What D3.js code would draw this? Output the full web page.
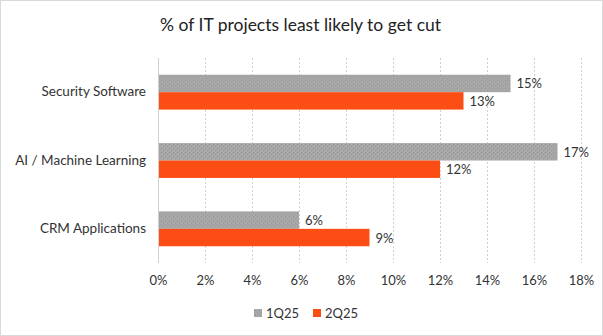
<!DOCTYPE html>
<html lang="en">
<head>
<meta charset="utf-8">
<script src="https://d3js.org/d3.v7.min.js"></script>
<style>
  body { margin: 0; background: #fff; }
  svg { font-family: Lato, "Open Sans", sans-serif; }
</style>
</head>
<body>
<svg id="chart"></svg>
<script>
  var categories = ["Security Software", "AI / Machine Learning", "CRM Applications"];
  var seriesNames = ["1Q25", "2Q25"];
  var q1Values = [15, 17, 6];
  var q2Values = [13, 12, 9];
  var tickValues = [0, 2, 4, 6, 8, 10, 12, 14, 16, 18];

  var width = 603, height = 336;
  var margin = {top: 58, right: 22, bottom: 73, left: 158};
  var colors = {"1Q25": "url(#dots)", "2Q25": "#fc4e14"};

  var svg = d3.select("#chart").attr("width", width).attr("height", height);

  // dotted fill for the grey series
  var pat = svg.append("defs").append("pattern")
      .attr("id", "dots").attr("width", 4).attr("height", 4)
      .attr("patternUnits", "userSpaceOnUse");
  pat.append("rect").attr("width", 4).attr("height", 4).attr("fill", "#a8a8a8");
  pat.append("rect").attr("x", 1).attr("y", 1).attr("width", 1).attr("height", 1).attr("fill", "#8c8c8c");
  pat.append("rect").attr("x", 3).attr("y", 3).attr("width", 1).attr("height", 1).attr("fill", "#959595");

  svg.append("rect")
      .attr("x", 0.5).attr("y", 0.5)
      .attr("width", width - 1).attr("height", height - 1)
      .attr("fill", "#fff").attr("stroke", "#d9d9d9");

  var x = d3.scaleLinear().domain([0, 18]).range([margin.left, width - margin.right]);
  var y = d3.scaleBand().domain(categories).range([margin.top, height - margin.bottom]).paddingInner(0.49).paddingOuter(0.245);
  var ySub = d3.scaleBand().domain(seriesNames).range([0, y.bandwidth()]);

  svg.append("text")
      .attr("x", width / 2 - 1).attr("y", 31)
      .attr("text-anchor", "middle")
      .attr("font-size", 17.5).attr("fill", "#222")
      .text("% of IT projects least likely to get cut");

  // gridlines
  svg.append("g").selectAll("line")
      .data(tickValues.slice(1))
      .enter().append("line")
      .attr("x1", d => x(d) + 0.5).attr("x2", d => x(d) + 0.5)
      .attr("y1", margin.top).attr("y2", height - margin.bottom)
      .attr("stroke", "#d0d0d0").attr("stroke-dasharray", "2,2");

  var xAxis = svg.append("g")
      .attr("transform", "translate(0," + (height - margin.bottom) + ")")
      .call(d3.axisBottom(x).tickValues(tickValues).tickFormat(d => d + "%").tickSize(0).tickPadding(13));
  xAxis.select(".domain").remove();
  xAxis.selectAll("text").attr("font-size", 13).attr("fill", "#333").attr("font-family", "Lato, sans-serif");

  var rows = categories.map((c, i) => ({cat: c, vals: [q1Values[i], q2Values[i]]}));

  var groups = svg.append("g").selectAll("g")
      .data(rows).enter().append("g")
      .attr("transform", d => "translate(0," + y(d.cat) + ")");

  groups.selectAll("rect")
      .data(d => d.vals.map((v, j) => ({name: seriesNames[j], v: v})))
      .enter().append("rect")
      .attr("x", x(0))
      .attr("y", d => ySub(d.name))
      .attr("width", d => x(d.v) - x(0))
      .attr("height", ySub.bandwidth())
      .attr("fill", d => colors[d.name]);

  groups.selectAll("text")
      .data(d => d.vals.map((v, j) => ({name: seriesNames[j], v: v})))
      .enter().append("text")
      .attr("x", d => x(d.v) + 6)
      .attr("y", d => ySub(d.name) + ySub.bandwidth() / 2 + 5)
      .attr("font-size", 13).attr("fill", "#333")
      .text(d => d.v + "%");

  // left axis line
  svg.append("line")
      .attr("x1", x(0) + 0.5).attr("x2", x(0) + 0.5)
      .attr("y1", margin.top).attr("y2", height - margin.bottom)
      .attr("stroke", "#d0d0d0");

  var yAxis = svg.append("g")
      .attr("transform", "translate(" + margin.left + ",0)")
      .call(d3.axisLeft(y).tickSize(0).tickPadding(12));
  yAxis.select(".domain").remove();
  yAxis.selectAll("text").attr("font-size", 13.5).attr("fill", "#333").attr("font-family", "Lato, sans-serif");

  // legend
  var legend = svg.append("g").selectAll("g")
      .data(seriesNames).enter().append("g")
      .attr("transform", (d, i) => "translate(" + (254 + i * 59) + ",309)");
  legend.append("rect").attr("width", 8).attr("height", 8).attr("fill", d => colors[d]);
  legend.append("text").attr("x", 12).attr("y", 8.5)
      .attr("font-size", 13).attr("fill", "#333").text(d => d);
</script>
</body>
</html>
